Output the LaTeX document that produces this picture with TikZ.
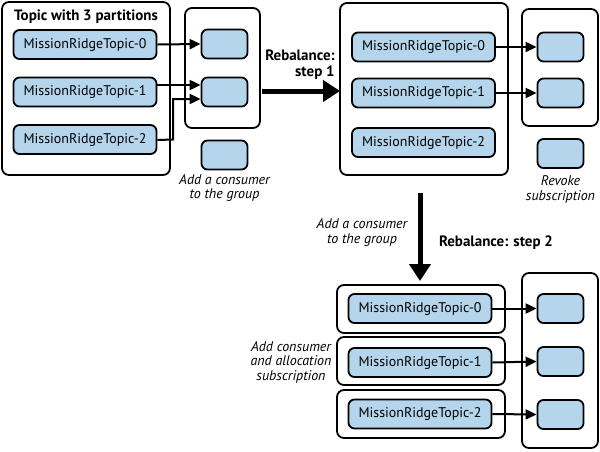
\documentclass[tikz,border=0pt]{standalone}
\usepackage{fontspec}
\setmainfont{PT Sans}
\usetikzlibrary{arrows.meta}
\definecolor{pblue}{RGB}{180,213,235}
\tikzset{
  outerbox/.style={draw=black, line width=1.8pt, rounded corners=7pt, inner sep=0pt},
  partbox/.style={draw=black, line width=1.8pt, rounded corners=6pt, fill=pblue, minimum width=143pt, minimum height=29pt, inner sep=0pt, font=\fontsize{14}{16}\selectfont},
  consbox/.style={draw=black, line width=1.8pt, rounded corners=6pt, fill=pblue, minimum width=46pt, minimum height=29pt, inner sep=0pt},
  conn/.style={line width=2pt, -{Triangle[length=11pt,width=10pt]}},
  bigarrow/.style={line width=5pt, -{Triangle[length=17pt,width=21pt]}},
  note/.style={font=\itshape\fontsize{14}{14.5}\selectfont, align=center, inner sep=0pt},
  heading/.style={font=\bfseries\fontsize{15}{16.5}\selectfont, inner sep=0pt}
}
\begin{document}
\begin{tikzpicture}[x=1pt,y=-1pt]
\useasboundingbox (0,0) rectangle (600,451);
% ---- left: topic ----
\node[outerbox, minimum width=168pt, minimum height=173pt] (topic) at (86,88.5) {};
\node[heading] (ttitle) at (86,17) {Topic with 3 partitions};
\node[partbox] (l0) at (85,44.5) {MissionRidgeTopic-0};
\node[partbox] (l1) at (85,92) {MissionRidgeTopic-1};
\node[partbox] (l2) at (85,139.5) {MissionRidgeTopic-2};
\node[outerbox, minimum width=75pt, minimum height=120pt] (g1) at (222.5,68) {};
\node[consbox] (c1a) at (224.5,44) {};
\node[consbox] (c1b) at (224.5,92) {};
\node[consbox] (c1c) at (224.5,155) {};
\node[note] (n1) at (224.5,188) {Add a consumer\\to the group};
\draw[conn] (l0.east) -- (c1a.west);
\draw[conn] ([yshift=7pt]l1.east) -- ([yshift=7pt]c1b.west);
\coordinate (bend) at (173,0);
\draw[conn] ([yshift=-0.5pt]l2.east) -- (bend |- l2.east) -- ([yshift=-7pt]bend |- c1b.west) -- ([yshift=-7pt]c1b.west);
% ---- step 1 ----
\node[heading, align=right] (s1) at (300,64.5) {Rebalance:\\step 1};
\coordinate (a1s) at (262,91);
\draw[bigarrow] (a1s) -- (340,91) coordinate (a1e);
% ---- middle ----
\node[outerbox, minimum width=168pt, minimum height=172pt] (mid) at (424,89) {};
\node[partbox] (m0) at (423.5,47) {MissionRidgeTopic-0};
\node[partbox] (m1) at (423.5,93) {MissionRidgeTopic-1};
\node[partbox] (m2) at (423.5,142.5) {MissionRidgeTopic-2};
\node[outerbox, minimum width=76pt, minimum height=117pt] (g2) at (560,67.5) {};
\node[consbox] (c2a) at (560.5,47) {};
\node[consbox] (c2b) at (560.5,93) {};
\node[consbox] (c2c) at (560.5,153.5) {};
\node[note] (n2) at (560.5,189.5) {Revoke\\subscription};
\draw[conn] (m0.east) -- (c2a.west);
\draw[conn] (m1.east) -- (c2b.west);
% ---- step 2 ----
\coordinate (a2s) at (420,193);
\draw[bigarrow] (a2s) -- (420,281) coordinate (a2e);
\node[note] (n3) at (362,232.5) {Add a consumer\\to the group};
\node[heading] (s2) at (496,243) {Rebalance: step 2};
% ---- bottom ----
\node[outerbox, minimum width=168pt, minimum height=48pt] (b0) at (421,309) {};
\node[outerbox, minimum width=168pt, minimum height=48pt] (b1) at (421,361) {};
\node[outerbox, minimum width=168pt, minimum height=48pt] (b2) at (421,414) {};
\node[partbox] (p0) at (420,308.5) {MissionRidgeTopic-0};
\node[partbox] (p1) at (420,362.5) {MissionRidgeTopic-1};
\node[partbox] (p2) at (420,414) {MissionRidgeTopic-2};
\node[outerbox, minimum width=76pt, minimum height=175pt] (g3) at (560,360.5) {};
\node[consbox] (c3a) at (560.5,308.5) {};
\node[consbox] (c3b) at (560.5,361.5) {};
\node[consbox] (c3c) at (560.5,414.5) {};
\node[note] (n4) at (291,362) {Add consumer\\and allocation\\subscription};
\draw[conn] (p0.east) -- (c3a.west);
\draw[conn] (p1.east) -- (c3b.west);
\draw[conn] (p2.east) -- (c3c.west);
\end{tikzpicture}
\end{document}
